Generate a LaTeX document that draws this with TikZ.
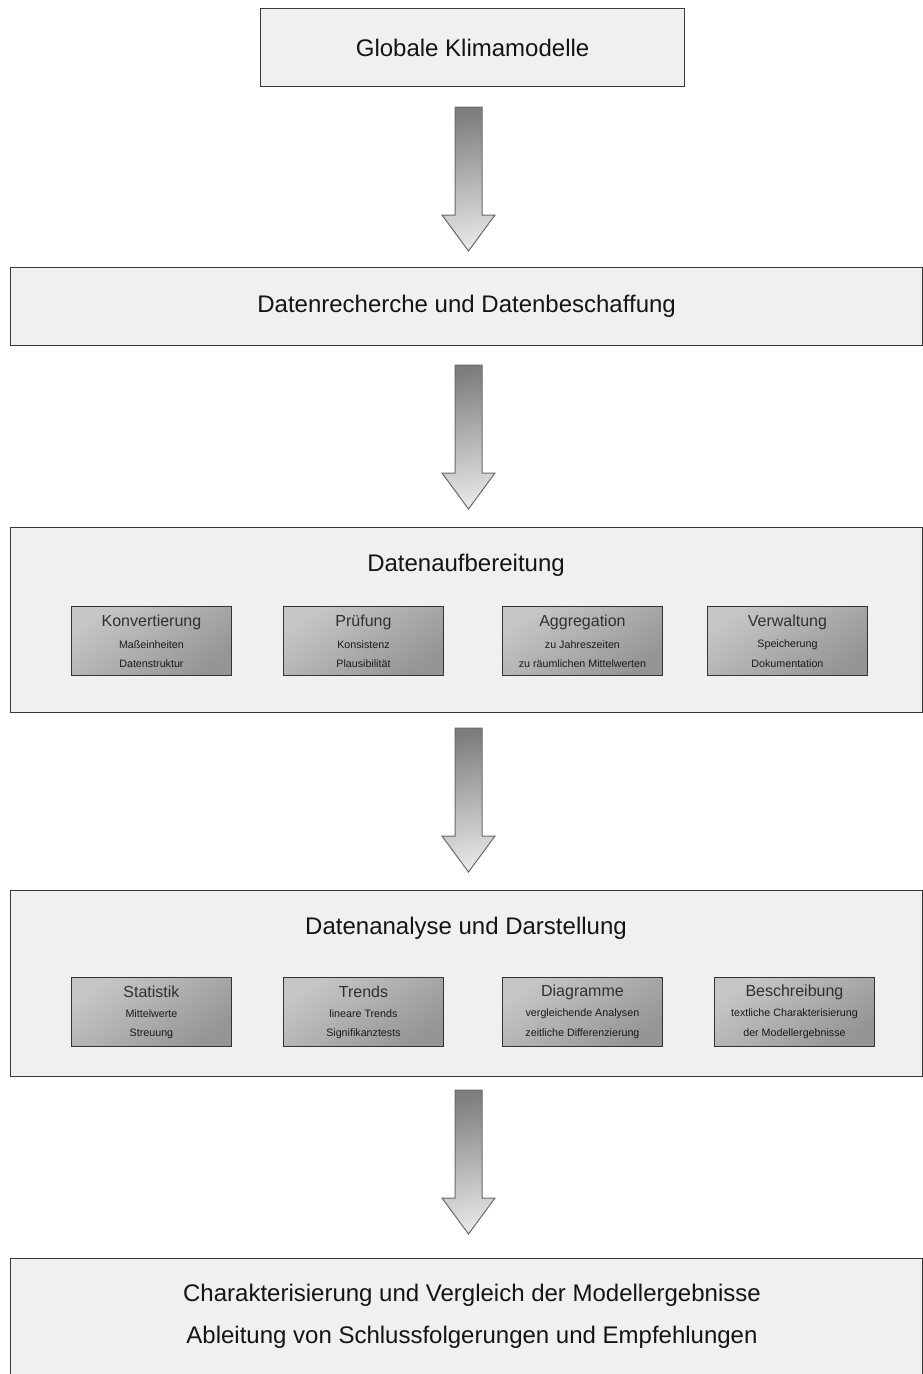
\documentclass[tikz,border=0pt]{standalone}
\usepackage{fontspec}
\setmainfont{Liberation Sans}
\usetikzlibrary{calc}
\definecolor{boxfill}{HTML}{F0F0F0}
\definecolor{boxline}{HTML}{383838}
\definecolor{subA}{HTML}{C6C6C6}
\definecolor{subB}{HTML}{959595}
\definecolor{arrA}{HTML}{7E7E7E}
\definecolor{arrB}{HTML}{E6E6E6}
\definecolor{arrline}{HTML}{6A6A6A}
\definecolor{subtitle}{HTML}{303030}
\begin{document}
\begin{tikzpicture}[x=1pt,y=-1pt,
  bigbox/.style={draw=boxline, fill=boxfill, line width=1.2pt, anchor=north west, inner sep=0pt},
  subbox/.style={draw=black!80, line width=0.9pt, top color=subA, bottom color=subB, shading angle=35,
                 anchor=north west, minimum width=160pt, minimum height=69pt, inner sep=0pt},
  bigtext/.style={font=\fontsize{24}{28}\selectfont, text=black!92, inner sep=0pt},
  subtitletext/.style={font=\fontsize{16}{19}\selectfont, text=subtitle, inner sep=0pt},
  sublinetext/.style={font=\fontsize{10.7}{13}\selectfont, text=black!90, inner sep=0pt},
  arrowstyle/.style={draw=arrline, line width=1pt, line join=miter, top color=arrA, bottom color=arrB, shading angle=10}
]
\useasboundingbox (0,0) rectangle (923,1374);
\clip (0,0) rectangle (923,1374);

% main boxes
\node[bigbox, minimum width=424pt, minimum height=78pt] (klima) at (260,8) {};
\node[bigtext] (klimat) at (klima.center) {Globale Klimamodelle};

\node[bigbox, minimum width=912pt, minimum height=78pt] (recherche) at (10,267) {};
\node[bigtext] (recherchet) at (recherche.center) {Datenrecherche und Datenbeschaffung};

\node[bigbox, minimum width=912pt, minimum height=185pt] (aufb) at (10,527) {};
\node[bigtext] (aufbt) at (466,565) {Datenaufbereitung};

\node[bigbox, minimum width=912pt, minimum height=186pt] (analyse) at (10,890) {};
\node[bigtext] (analyset) at (466,928) {Datenanalyse und Darstellung};

\node[bigbox, minimum width=912pt, minimum height=130pt] (ergebnis) at (10,1258) {};
\node[bigtext] (erg1) at (472,1295) {Charakterisierung und Vergleich der Modellergebnisse};
\node[bigtext] (erg2) at (472,1337) {Ableitung von Schlussfolgerungen und Empfehlungen};

% sub boxes: Datenaufbereitung
\foreach \n/\x/\t/\a/\b in {konv/71/Konvertierung/Maßeinheiten/Datenstruktur,
                            pruef/283/Prüfung/Konsistenz/Plausibilität,
                            aggr/502/Aggregation/zu Jahreszeiten/zu räumlichen Mittelwerten,
                            verw/707/Verwaltung/Speicherung/Dokumentation}{
  \node[subbox] (\n) at (\x,606) {};
  \node[subtitletext] (\n t) at ($(\n.north)+(0,16)$) {\t};
  \node[sublinetext] (\n a) at ($(\n.north)+(0,39)$) {\a};
  \node[sublinetext] (\n b) at ($(\n.north)+(0,58)$) {\b};
}

% sub boxes: Datenanalyse
\foreach \n/\x/\t/\a/\b in {stat/71/Statistik/Mittelwerte/Streuung,
                            trend/283/Trends/lineare Trends/Signifikanztests,
                            diag/502/Diagramme/vergleichende Analysen/zeitliche Differenzierung,
                            besch/714/Beschreibung/textliche Charakterisierung/der Modellergebnisse}{
  \node[subbox] (\n) at (\x,977) {};
  \node[subtitletext] (\n t) at ($(\n.north)+(0,15)$) {\t};
  \node[sublinetext] (\n a) at ($(\n.north)+(0,37)$) {\a};
  \node[sublinetext] (\n b) at ($(\n.north)+(0,57)$) {\b};
}

% block arrows
\coordinate (a1) at (468.5,107);
\coordinate (a2) at (468.5,365);
\coordinate (a3) at (468.5,728);
\coordinate (a4) at (468.5,1090);
\foreach \c in {a1,a2,a3,a4}{
  \draw[arrowstyle] (\c) ++(-13.5,0) -- ++(27,0) -- ++(0,108) -- ++(13,0)
        -- ++(-26.5,36) -- ++(-26.5,-36) -- ++(13,0) -- cycle;
}
\end{tikzpicture}
\end{document}
